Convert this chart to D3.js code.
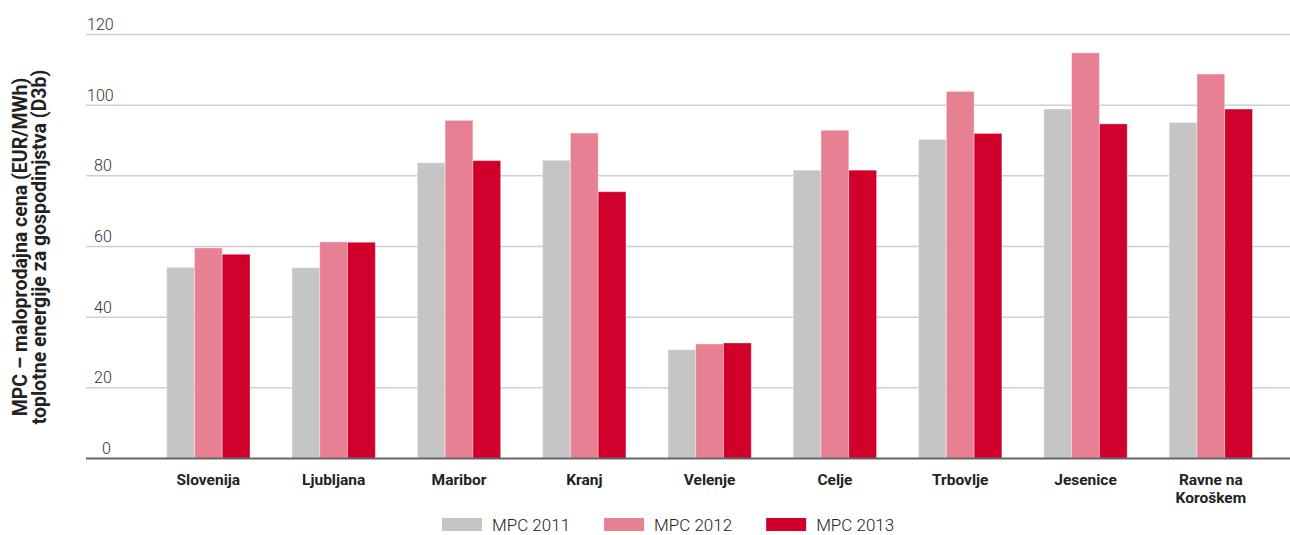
<!DOCTYPE html>
<html>
<head>
<meta charset="utf-8">
<title>MPC</title>
<style>
  body { margin: 0; background: #fff; }
  svg { display: block; font-family: Roboto, "Noto Sans", sans-serif; }
</style>
</head>
<body>
<svg width="1290" height="535"></svg>
<script src="https://d3js.org/d3.v7.min.js"></script>
<script>
// data
const categories = ["Slovenija", "Ljubljana", "Maribor", "Kranj", "Velenje", "Celje", "Trbovlje", "Jesenice", "Ravne na Koroškem"]
const series = ["MPC 2011", "MPC 2012", "MPC 2013"]
const mpc2011 = [54.1, 54.0, 83.7, 84.4, 30.8, 81.6, 90.3, 98.9, 95.1]
const mpc2012 = [59.6, 61.3, 95.7, 92.1, 32.4, 92.9, 103.9, 114.8, 108.8]
const mpc2013 = [57.8, 61.2, 84.3, 75.5, 32.7, 81.6, 92.0, 94.7, 98.9]
const yTicks = [0, 20, 40, 60, 80, 100, 120]
const colors = ["#c5c5c5", "#e78093", "#d0002a"]

const values = [mpc2011, mpc2012, mpc2013]
const rows = categories.map((c, i) => ({ name: c, vals: series.map((s, j) => ({ s, v: values[j][i] })) }))

const svg = d3.select("svg")

const y = d3.scaleLinear().domain([0, 120]).range([458.5, 34.5])
const x = d3.scaleBand().domain(categories).range([145.7, 1273.5])
    .paddingInner(0.335).paddingOuter(0.1675)
const xs = d3.scaleBand().domain(series).range([0, x.bandwidth()])
const color = d3.scaleOrdinal().domain(series).range(colors)

// gridlines + tick labels
const grid = svg.append("g")
grid.selectAll("line")
  .data(yTicks.filter(d => d > 0))
  .join("line")
    .attr("x1", 86).attr("x2", 1290)
    .attr("y1", d => y(d)).attr("y2", d => y(d))
    .attr("stroke", "#cfcfcf")
    .attr("stroke-width", 1.5)
grid.selectAll("text")
  .data(yTicks)
  .join("text")
    .attr("x", d => d === 0 ? 102 : (d < 100 ? 94 : 87))
    .attr("y", d => y(d) - 4.5)
    .attr("font-size", 16)
    .attr("font-weight", 300)
    .attr("fill", "#333")
    .text(d => d)

// bars
svg.append("g")
  .selectAll("g")
  .data(rows)
  .join("g")
    .attr("transform", d => `translate(${x(d.name)},0)`)
  .selectAll("rect")
  .data(d => d.vals)
  .join("rect")
    .attr("x", d => xs(d.s))
    .attr("width", xs.bandwidth())
    .attr("y", d => y(d.v))
    .attr("height", d => y(0) - y(d.v))
    .attr("fill", d => color(d.s))
    .attr("stroke", "rgba(255,255,255,0.35)")
    .attr("stroke-width", 1)

// baseline
svg.append("line")
  .attr("x1", 86).attr("x2", 1290)
  .attr("y1", y(0)).attr("y2", y(0))
  .attr("stroke", "#666")
  .attr("stroke-width", 2)

// category labels
const catLines = { "Ravne na Koroškem": ["Ravne na", "Koroškem"] }
svg.append("g")
  .selectAll("text")
  .data(categories)
  .join("text")
    .attr("x", d => x(d) + x.bandwidth() / 2)
    .attr("y", 485)
    .attr("text-anchor", "middle")
    .attr("font-size", 15.5)
    .attr("font-weight", 700)
    .attr("fill", "#222")
  .selectAll("tspan")
  .data(d => catLines[d] || [d])
  .join("tspan")
    .attr("x", function () { return this.parentNode.getAttribute("x") })
    .attr("dy", (d, i) => i ? 17.5 : 0)
    .text(d => d)

// y axis title
svg.append("text")
    .attr("transform", "translate(0,247) rotate(-90)")
    .attr("text-anchor", "middle")
    .attr("font-size", 19.5)
    .attr("font-weight", 700)
    .attr("fill", "#222")
  .selectAll("tspan")
  .data(["MPC – maloprodajna cena (EUR/MWh)", "toplotne energije za gospodinjstva (D3b)"])
  .join("tspan")
    .attr("x", 0)
    .attr("y", (d, i) => i ? 46 : 27)
    .text(d => d)

// legend
const legend = svg.append("g")
let lx = 442
series.forEach((s, i) => {
  legend.append("rect")
    .attr("x", lx).attr("y", 518)
    .attr("width", 40).attr("height", 13)
    .attr("fill", colors[i])
  const t = legend.append("text")
    .attr("x", lx + 50).attr("y", 531)
    .attr("font-size", 17)
    .attr("font-weight", 300)
    .attr("fill", "#222")
    .text(s)
  lx += 50 + t.node().getComputedTextLength() + 34
})
</script>
</body>
</html>
